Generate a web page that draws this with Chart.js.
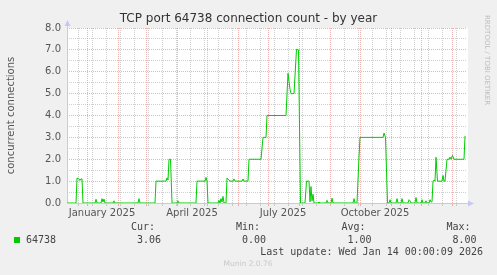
<!DOCTYPE html>
<html>
<head>
<meta charset="utf-8">
<script src="https://cdn.jsdelivr.net/npm/chart.js@4.4.0/dist/chart.umd.min.js"></script>
<style>
  html, body { margin: 0; padding: 0; background: #F0F0F0; }
  canvas { display: block; }
</style>
</head>
<body>
<canvas id="grafico" width="497" height="275"></canvas>
<script>
// --- DADOS (dias contados a partir de 1 jan 2025) ---
const DIAS = [
  -20, -11, -10, -8, -7, -6, -5, -4,
  8, 9, 10, 14, 15, 16, 17, 18,
  26, 27, 28, 51, 52, 53,
  68, 69, 79, 80, 81, 82, 83.5, 85,
  90, 91, 92, 109, 110, 118, 119, 120, 121,
  131, 132, 133, 134, 135, 136, 137,
  139, 140, 141, 143, 146, 147, 148, 155, 156, 157, 161, 162,
  174, 176, 179, 180, 199, 201, 203, 204, 207, 209.5, 211.5, 213.5,
  218, 219.5, 222, 223, 224, 225, 226, 227,
  231, 232, 233, 239, 240, 241, 244, 245, 246,
  266, 267, 268, 270, 272, 273, 296, 297, 298.5, 300.5,
  302, 303, 304, 309, 310, 311, 314, 315, 316, 321, 322, 323, 324, 328, 329, 330, 334, 335, 336, 338, 339, 340, 342, 343, 344,
  345, 346, 347, 348, 349, 350.5, 355, 356, 357, 358, 360, 362, 363, 364, 365.5, 367, 377, 378
];
const VALORES = [
  0, 0, 1.14, 1.1, 1.03, 1.1, 1.1, 0,
  0, 0.17, 0, 0, 0.2, 0.05, 0.18, 0,
  0, 0.1, 0, 0, 0.2, 0,
  0, 1.0, 1.0, 1.15, 1.05, 2.0, 2.0, 0,
  0, 0.1, 0, 0, 1.0, 1.0, 1.17, 1.0, 0,
  0, 0.12, 0, 0.2, 0.05, 0.3, 0,
  0, 1.14, 1.1, 1.0, 1.0, 1.1, 1.0, 1.0, 1.1, 1.0, 1.0, 2.0,
  2.0, 3.0, 3.0, 4.0, 4.0, 5.93, 5.2, 5.0, 5.0, 7.03, 7.0, 0,
  0, 1.0, 1.0, 0.05, 0.75, 0.1, 0.4, 0,
  0, 0.05, 0, 0, 0.12, 0, 0, 0.22, 0,
  0, 0.2, 0, 0, 2.1, 3.0, 3.0, 3.2, 3.0, 0,
  0, 0.15, 0, 0, 0.2, 0, 0, 0.2, 0, 0, 0.15, 0.1, 0, 0, 0.25, 0, 0, 0.15, 0, 0, 0.1, 0, 0, 0.15, 0.05,
  0.05, 1.0, 1.05, 1.0, 2.09, 1.0, 1.0, 1.26, 1.0, 1.0, 2.0, 2.0, 2.1, 2.0, 2.18, 2.0, 2.0, 3.06
];

// grade: inícios de mês (vermelho) e segundas-feiras quinzenais (cinza)
const MESES_DIAS = [0, 31, 59, 90, 120, 151, 181, 212, 243, 273, 304, 334, 365];
const GRADE_MENOR = [-9, 5, 19, 33, 47, 61, 75, 89, 103, 117, 131, 145, 159, 173, 187, 201,
  215, 229, 257, 271, 285, 299, 313, 327, 341, 355, 369];
const ROTULOS_DIAS = [15, 105, 196, 288];
const ROTULOS = ['January 2025', 'April 2025', 'July 2025', 'October 2025'];

const LEGENDA_SERIE = '64738';
const ESTATISTICAS = [
  { nome: 'Cur:', valor: '3.06', x: 161 },
  { nome: 'Min:', valor: '0.00', x: 266 },
  { nome: 'Avg:', valor: '1.00', x: 371.5 },
  { nome: 'Max:', valor: '8.00', x: 476.5 }
];

// --- ESTILO ---
const VERDE = '#00CC00';
const VERMELHO = 'rgba(225, 100, 100, 0.5)';
const CINZA = 'rgba(160, 160, 160, 0.5)';
const EIXO = '#C4C8F2';
const TRANSP = 'rgba(0,0,0,0)';

const todosTicksX = [...new Set([...MESES_DIAS, ...GRADE_MENOR, ...ROTULOS_DIAS])].sort((a, b) => a - b);

const corGradeX = (v) => {
  if (MESES_DIAS.includes(v)) return VERMELHO;
  if (GRADE_MENOR.includes(v)) return CINZA;
  return TRANSP;
};
const corGradeY = (v) => {
  if (v === 0) return TRANSP;
  return Number.isInteger(v) ? VERMELHO : CINZA;
};

const decoracao = {
  id: 'decoracao',
  beforeDraw(chart) {
    const { ctx, chartArea: a } = chart;
    ctx.save();
    ctx.fillStyle = '#F0F0F0';
    ctx.fillRect(0, 0, chart.width, chart.height);
    ctx.fillStyle = '#FFFFFF';
    ctx.fillRect(a.left, a.top, a.right - a.left + 1, a.bottom - a.top + 1);
    ctx.restore();
  },
  beforeDatasetsDraw(chart) {
    const { ctx, chartArea: a } = chart;
    const x0 = a.left + 0.5, y0 = Math.round(a.bottom) + 0.5;
    ctx.save();
    ctx.strokeStyle = EIXO;
    ctx.fillStyle = EIXO;
    ctx.lineWidth = 1;
    ctx.beginPath();
    ctx.moveTo(x0, y0); ctx.lineTo(x0, a.top - 3);
    ctx.moveTo(x0, y0); ctx.lineTo(a.right + 3, y0);
    ctx.stroke();
    // setas
    ctx.beginPath();
    ctx.moveTo(x0, a.top - 8); ctx.lineTo(x0 - 3, a.top - 2); ctx.lineTo(x0 + 3, a.top - 2);
    ctx.closePath(); ctx.fill();
    ctx.beginPath();
    ctx.moveTo(a.right + 7, y0); ctx.lineTo(a.right + 1, y0 - 3); ctx.lineTo(a.right + 1, y0 + 3);
    ctx.closePath(); ctx.fill();
    ctx.restore();
  },
  afterDraw(chart) {
    const ctx = chart.ctx;
    ctx.save();
    // legenda
    ctx.fillStyle = VERDE;
    ctx.fillRect(14, 237, 6, 6);
    ctx.font = '10px "DejaVu Sans Mono"';
    ctx.textBaseline = 'middle';
    ctx.fillStyle = '#444';
    ctx.textAlign = 'left';
    ctx.fillText(LEGENDA_SERIE, 26, 240);
    ctx.textAlign = 'right';
    ESTATISTICAS.forEach(e => {
      ctx.fillText(e.nome, e.x - 6, 227.5);
      ctx.fillText(e.valor, e.x, 240);
    });
    ctx.fillText('Last update: Wed Jan 14 00:00:09 2026', 483, 252);
    // rodapé
    ctx.textAlign = 'center';
    ctx.font = '7.5px "DejaVu Sans"';
    ctx.fillStyle = '#C8C8C8';
    ctx.fillText('Munin 2.0.76', 248, 264);
    // marca vertical
    ctx.translate(486.5, 15);
    ctx.rotate(Math.PI / 2);
    ctx.textAlign = 'left';
    ctx.font = '7px "DejaVu Sans"';
    ctx.fillStyle = '#BDBDBD';
    ctx.fillText('RRDTOOL / TOBI OETIKER', 0, 0);
    ctx.restore();
  }
};

new Chart(document.getElementById('grafico'), {
  type: 'line',
  data: {
    datasets: [{
      label: LEGENDA_SERIE,
      data: DIAS.map((d, i) => ({ x: d, y: VALORES[i] })),
      borderColor: VERDE,
      borderWidth: 1,
      pointRadius: 0,
      tension: 0,
      fill: false
    }]
  },
  options: {
    responsive: false,
    animation: false,
    devicePixelRatio: 1,
    layout: { padding: { left: 0, top: 0, right: 0, bottom: 52 } },
    plugins: {
      legend: { display: false },
      tooltip: { enabled: false },
      title: {
        display: true,
        text: 'TCP port 64738 connection count - by year',
        color: '#333',
        font: { family: 'DejaVu Sans', size: 12, weight: 'normal' },
        padding: { top: 11.5, bottom: 2.1 }
      }
    },
    scales: {
      x: {
        type: 'linear', min: -20, max: 380, bounds: 'data',
        afterBuildTicks: (eixo) => { eixo.ticks = todosTicksX.map(v => ({ value: v })); },
        afterFit: (eixo) => { eixo.height = 20; },
        grid: {
          color: c => corGradeX(c.tick && c.tick.value),
          tickColor: c => corGradeX(c.tick && c.tick.value),
          drawTicks: true, tickLength: 3, lineWidth: 1
        },
        border: { display: false, dash: [1, 1] },
        ticks: {
          autoSkip: false, maxRotation: 0, padding: 1, color: '#555',
          font: { family: 'DejaVu Sans', size: 10 },
          callback: (v) => {
            const i = ROTULOS_DIAS.indexOf(v);
            return i >= 0 ? ROTULOS[i] : '';
          }
        }
      },
      y: {
        min: 0, max: 8,
        afterFit: (eixo) => { eixo.width = 67; },
        grid: { color: c => corGradeY(c.tick && c.tick.value), drawTicks: false, lineWidth: 1 },
        border: { display: false, dash: [1, 1] },
        ticks: {
          stepSize: 0.5, autoSkip: false, padding: 6, color: '#555',
          font: { family: 'DejaVu Sans', size: 10 },
          callback: (v) => Number.isInteger(v) ? v.toFixed(1) : ''
        },
        title: {
          display: true, text: 'concurrent connections', color: '#555',
          font: { family: 'DejaVu Sans', size: 10 },
          padding: { top: 5, bottom: 0 }
        }
      },
      // eixo vazio só para reservar a margem direita
      margem: {
        type: 'linear', position: 'right', display: true,
        afterFit: (eixo) => { eixo.width = 30; },
        grid: { display: false, drawOnChartArea: false },
        border: { display: false },
        ticks: { display: false }
      }
    }
  },
  plugins: [decoracao]
});
</script>
</body>
</html>
